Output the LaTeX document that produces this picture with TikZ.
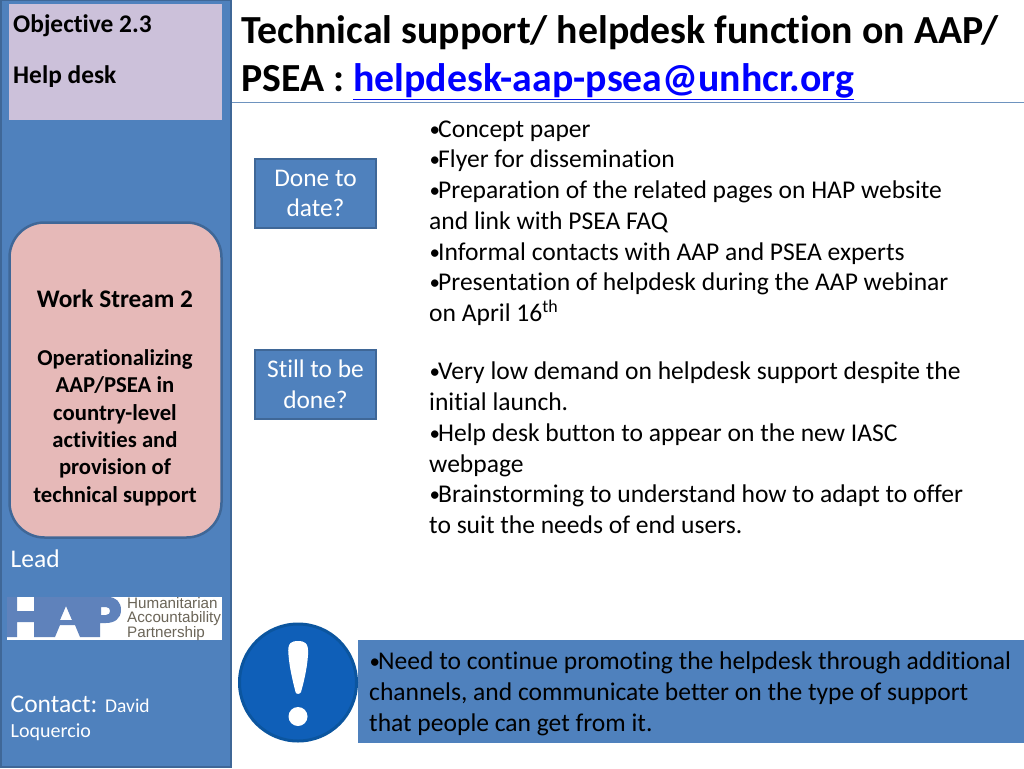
\documentclass[tikz,border=0pt]{standalone}
\usepackage{fontspec}
\setmainfont[Ligatures=CommonOff]{Carlito}
\newfontfamily\hapfont{Liberation Sans}
\definecolor{panel}{HTML}{4F81BD}
\definecolor{panelline}{HTML}{3F6797}
\definecolor{objfill}{HTML}{CCC1DA}
\definecolor{wsfill}{HTML}{E6B9B8}
\definecolor{hapblue}{HTML}{5F82BB}
\definecolor{hapgrey}{HTML}{6B6558}
\definecolor{alertblue}{HTML}{0F5FB8}
\definecolor{alertline}{HTML}{0B559F}
\definecolor{rulecol}{HTML}{6E93BF}
\newcommand{\bul}{\makebox[9pt][l]{\hspace*{0.5pt}\fontsize{21}{21}\selectfont\raisebox{1pt}{•}}}
\tikzset{x=1pt,y=-1pt,
 bodytext/.style={anchor=north west,inner sep=0pt,align=left,font=\fontsize{25.55}{30.7}\selectfont,text=black},
 boldside/.style={inner sep=0pt,align=center,font=\bfseries\fontsize{22.7}{27.3}\selectfont,text=black},
 askbox/.style={draw=panelline,line width=2pt,fill=panel,text=white,minimum width=121pt,minimum height=69pt,inner sep=0pt,align=center,font=\fontsize{25.4}{30.7}\selectfont},
 objlabel/.style={anchor=base west,inner sep=0pt,font=\bfseries\fontsize{25.4}{30}\selectfont},
 titleline/.style={anchor=base west,inner sep=0pt,font=\bfseries\fontsize{39.8}{48}\selectfont},
 sidelabel/.style={anchor=base west,inner sep=0pt,text=white,font=\fontsize{25.5}{30}\selectfont},
 haplabel/.style={anchor=base west,inner sep=0pt,text=hapgrey,font=\hapfont\fontsize{15.2}{15}\selectfont}}
\begin{document}
\begin{tikzpicture}
\useasboundingbox (0,0) rectangle (1024,768);
\fill[white] (0,0) rectangle (1024,768);
% side panel
\path[fill=panel,draw=panelline,line width=2pt] (0.5,0.5) rectangle (231,767);
\node[fill=objfill,minimum width=213pt,minimum height=115pt,inner sep=0pt] (obj) at (115.5,62) {};
\draw[color=rulecol,line width=1pt] (232,102) -- (1024,102);
\node[objlabel] (objt) at (13,33) {Objective 2.3};
\node[objlabel] (help) at (13,83) {Help desk};
% title
\node[titleline] (t1) at (241,43.5) {Technical support/ helpdesk function on AAP/};
\node[titleline] (t2) at (241,91.5) {PSEA : \textcolor{blue}{\underline{helpdesk-aap-psea@unhcr.org}}};
% work stream
\node[draw=panelline,line width=2.5pt,fill=wsfill,rounded corners=35pt,minimum width=212pt,minimum height=315pt,inner sep=0pt] (ws) at (115.5,380) {};
\node[boldside,font=\bfseries\fontsize{25.3}{30}\selectfont] (wst) at (115,299) {Work Stream 2};
\node[boldside,anchor=north] (wsb) at (115,349.5) {Operationalizing\\AAP/PSEA in\\country-level\\activities and\\provision of\\technical support};
% lead
\node[sidelabel] (lead) at (10.5,567) {Lead};
\node[fill=white,minimum width=215pt,minimum height=43pt,inner sep=0pt] (logo) at (114.5,618.5) {};
\fill[hapblue,even odd rule] (7,597) -- (17,597) -- (17,611) -- (34,611) -- (34,597) -- (108,597)
  .. controls (116,597) and (121,602) .. (121,610) .. controls (121,619) and (114,623) .. (106,623) -- (100,623) -- (100,637)
  -- (80,637) -- (75,625) -- (60,625) -- (55,637) -- (34,637) -- (34,622) -- (17,622) -- (17,637) -- (7,637) -- cycle
  (66,606) -- (60,620) -- (72,620) -- cycle
  (101,607) -- (106,607) .. controls (109,607) and (110,609) .. (110,611) .. controls (110,613) and (109,615) .. (106,615) -- (101,615) -- cycle;
\node[haplabel] (hap1) at (127,608) {Humanitarian};
\node[haplabel] (hap2) at (127,622.5) {Accountability};
\node[haplabel] (hap3) at (127,637) {Partnership};
% contact
\node[sidelabel] (contact) at (10.5,712) {Contact: \fontsize{19.5}{24}\selectfont David};
\node[sidelabel,font=\fontsize{20}{24}\selectfont] (loq) at (10.5,737) {Loquercio};
% ask boxes
\node[askbox] (done) at (315.5,193.5) {Done to\\date?};
\node[askbox] (still) at (315.5,384) {Still to be\\done?};
% lists
\node[bodytext] (l1) at (429,120.5) {\bul Concept paper\\\bul Flyer for dissemination\\\bul Preparation of the related pages on HAP website\\and link with PSEA FAQ\\\bul Informal contacts with AAP and PSEA experts\\\bul Presentation of helpdesk during the AAP webinar\\on April 16\textsuperscript{th}};
\node[bodytext] (l2) at (429,362) {\bul Very low demand on helpdesk support despite the\\initial launch.\\\bul Help desk button to appear on the new IASC\\webpage\\\bul Brainstorming to understand how to adapt to offer\\to suit the needs of end users.};
% alert
\node[fill=panel,minimum width=666pt,minimum height=103pt,inner sep=0pt] (note) at (691,691.5) {};
\node[bodytext] (notet) at (369,652) {\bul Need to continue promoting the helpdesk through additional\\channels, and communicate better on the type of support\\that people can get from it.};
\node[circle,fill=alertblue,draw=alertline,line width=3pt,minimum size=117pt,inner sep=0pt] (alert) at (298,682.5) {};
\fill[white] (288.5,655) .. controls (287,642) and (292,641) .. (298,641) .. controls (304,641) and (309,642) .. (308,655) .. controls (307,670) and (303,685) .. (301,692) .. controls (300,694.5) and (296,694.5) .. (295.5,692) .. controls (293,682) and (289.5,668) .. (288.5,655) -- cycle;
\fill[white] (298,716.5) circle (9.5pt);
\end{tikzpicture}
\end{document}
